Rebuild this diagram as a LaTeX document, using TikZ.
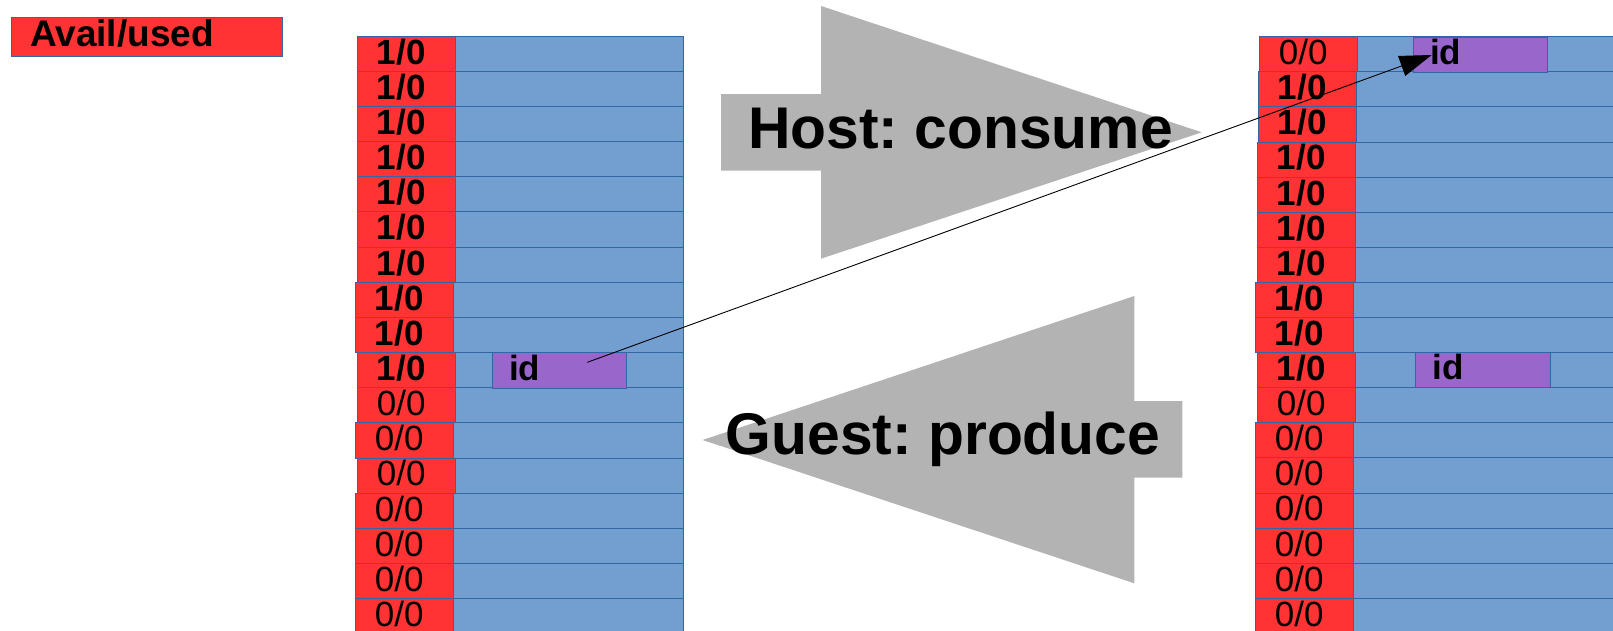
\documentclass[tikz,border=0pt]{standalone}
\usepackage{fontspec}
\setmainfont{Liberation Sans}
\usetikzlibrary{arrows.meta}
\frenchspacing
\definecolor{cellred}{HTML}{FF3333}
\definecolor{cellblue}{HTML}{729FCF}
\definecolor{cellborder}{HTML}{3465A4}
\definecolor{idpurple}{HTML}{9966CC}
\definecolor{arrowgray}{HTML}{B3B3B3}
\newcommand{\cellone}{{\bfseries 1/0}\kern10pt}
\newcommand{\cellzero}{0/0\kern10pt}
\tikzset{
  redcell/.style={draw=cellborder, line width=0.8pt, fill=cellred, minimum width=97.6pt,
    inner sep=0pt, anchor=north west, text height=21pt, text depth=0pt,
    font=\fontsize{35}{40}\selectfont},
  bluecell/.style={draw=cellborder, line width=0.8pt, fill=cellblue, inner sep=0pt, anchor=north west},
  idbox/.style={draw=cellborder, line width=0.8pt, fill=idpurple, minimum width=134.5pt,
    minimum height=35.5pt, anchor=north west, inner xsep=17pt, inner ysep=0pt,
    text width=100.5pt, align=left, text height=20pt, text depth=0pt,
    font=\bfseries\fontsize{35}{40}\selectfont},
  legendbox/.style={draw=cellborder, line width=0.8pt, fill=cellred, minimum width=271.3pt,
    minimum height=39pt, anchor=north west, inner xsep=19pt, inner ysep=0pt,
    text width=233.3pt, align=left, text height=19pt, text depth=0pt,
    font=\bfseries\fontsize{37}{42}\selectfont},
  bigtext/.style={font=\bfseries\fontsize{58.8}{64}\selectfont, anchor=base west, inner sep=0pt},
  bigarrow/.style={fill=arrowgray},
  connector/.style={draw=black, line width=0.9pt, -{Triangle[length=32pt,width=21pt]}},
}
\begin{document}
\begin{tikzpicture}[x=1pt, y=-1pt]
\useasboundingbox (0,0) rectangle (1613,630);

% legend
\node[legendbox] (legend) at (10.7,16.7) {Avail/used};

% big arrows
\path[bigarrow] (721,94) -- (821,94) -- (821,6) -- (1201.7,132.3) -- (821,258.7)
  -- (821,170.7) -- (721,170.7) -- cycle;
\path[bigarrow] (1182.3,401) -- (1134.3,401) -- (1134.3,296) -- (702.7,440)
  -- (1134.3,583.3) -- (1134.3,477.7) -- (1182.3,477.7) -- cycle;
\node[bigtext] (host) at (748,148.3) {Host: consume};
\node[bigtext] (guest) at (725.5,454.5) {Guest: produce};

% left ring
\foreach \i/\xo/\t in {1/357/\cellone, 2/357/\cellone, 3/357/\cellone, 4/357/\cellone,
  5/357/\cellone, 6/357/\cellone, 7/357/\cellone, 8/355/\cellone, 9/355/\cellone,
  10/357/\cellone, 11/357/\cellzero, 12/355/\cellzero, 13/357/\cellzero,
  14/355/\cellzero, 15/355/\cellzero, 16/355/\cellzero, 17/355/\cellzero}{
  \pgfmathsetmacro\ty{35.7+(\i-1)*35.15}
  \node[bluecell, minimum width=233.3pt, minimum height=35.15pt] (lb\i) at (450,\ty) {};
  \node[redcell, minimum height=35.15pt] (lr\i) at (\xo,\ty) {\t};
}

% right ring
\foreach \i/\xo/\t in {1/1259/\cellzero, 2/1258/\cellone, 3/1258/\cellone, 4/1257/\cellone,
  5/1257/\cellone, 6/1257/\cellone, 7/1257/\cellone, 8/1255/\cellone, 9/1255/\cellone,
  10/1257/\cellone, 11/1257/\cellzero, 12/1255/\cellzero, 13/1255/\cellzero,
  14/1255/\cellzero, 15/1255/\cellzero, 16/1255/\cellzero, 17/1255/\cellzero}{
  \pgfmathsetmacro\ty{36.2+(\i-1)*35.1}
  \node[bluecell, minimum width=270pt, minimum height=35.1pt] (rb\i) at (1352,\ty) {};
  \node[redcell, minimum height=35.1pt] (rr\i) at (\xo,\ty) {\t};
}

% id boxes
\node[idbox] (idL) at (491.7,352.3) {id};
\node[idbox] (idR1) at (1412.7,36.7) {id};
\node[idbox] (idR2) at (1415,351.7) {id};

% connector
\coordinate (src) at (587.3,362.3);
\coordinate (dst) at (1431.7,55);
\draw[connector] (src) -- (dst);
\end{tikzpicture}
\end{document}
